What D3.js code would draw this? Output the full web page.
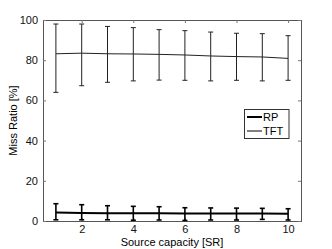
<!DOCTYPE html>
<html>
<head>
<meta charset="utf-8">
<script src="https://cdn.jsdelivr.net/npm/d3@7"></script>
<style>
  body { margin: 0; background: #fff; }
  text { font-family: "Liberation Sans", Arial, sans-serif; }
</style>
</head>
<body>
<div id="chart"></div>
<script>
// data
let capacity = [1, 2, 3, 4, 5, 6, 7, 8, 9, 10]
let tftMean  = [83.2, 83.5, 83.2, 83.1, 82.9, 82.6, 82.1, 81.8, 81.6, 80.9]
let tftLow   = [64, 67.3, 69, 69.7, 70.1, 70, 69.7, 70, 69.7, 70]
let tftHigh  = [98, 98, 96.8, 96.2, 95.2, 94.7, 94, 93.4, 93.2, 92.2]
let rpMean   = [4.2, 4.0, 3.9, 3.8, 3.8, 3.7, 3.7, 3.7, 3.7, 3.6]
let rpLow    = [0.6, 0.6, 0.6, 0.4, 0.5, 0.3, 0.5, 0.5, 0.8, 0.5]
let rpHigh   = [8.6, 8.1, 7.6, 7.3, 7.1, 6.6, 6.5, 6.4, 6.3, 6.1]
let xTicks = [2, 4, 6, 8, 10]
let yTicks = [0, 20, 40, 60, 80, 100]

window.onload = function() {
    let left = 43, right = 301, top = 20, bottom = 221

    let svg = d3.select('#chart')
        .append('svg')
        .attr('width', 332)
        .attr('height', 249)

    let x = d3.scaleLinear().domain([0.5, 10.5]).range([left, right])
    let y = d3.scaleLinear().domain([0, 100]).range([bottom, top])

    // axes (ticks inside, box style)
    svg.append('g')
        .attr('transform', `translate(0,${bottom})`)
        .call(d3.axisBottom(x).tickValues(xTicks).tickSize(-3).tickPadding(4).tickFormat(d3.format('d')))
    svg.append('g')
        .attr('transform', `translate(0,${top})`)
        .call(d3.axisTop(x).tickValues(xTicks).tickSize(-3).tickFormat(''))
    svg.append('g')
        .attr('transform', `translate(${left},0)`)
        .call(d3.axisLeft(y).tickValues(yTicks).tickSize(-3).tickPadding(5))
    svg.append('g')
        .attr('transform', `translate(${right},0)`)
        .call(d3.axisRight(y).tickValues(yTicks).tickSize(-3).tickFormat(''))

    svg.selectAll('.domain').attr('stroke', '#555')
    svg.selectAll('.tick line').attr('stroke', '#777')
    svg.selectAll('.tick text').attr('font-size', 11).attr('fill', '#111')
        .attr('font-family', '"Liberation Sans", Arial, sans-serif')

    function drawSeries(mean, low, high, lineW, barW, color) {
        let line = d3.line()
            .x((d, i) => x(capacity[i]))
            .y(d => y(d))
        svg.append('path')
            .datum(mean)
            .attr('d', line)
            .attr('fill', 'none')
            .attr('stroke', color)
            .attr('stroke-width', lineW)
        let bars = svg.append('g')
            .selectAll('g')
            .data(capacity)
            .join('g')
            .attr('stroke', color)
            .attr('stroke-width', barW)
        bars.append('line')
            .attr('x1', d => x(d)).attr('x2', d => x(d))
            .attr('y1', (d, i) => y(low[i])).attr('y2', (d, i) => y(high[i]))
        bars.append('line')
            .attr('x1', d => x(d) - 2.5).attr('x2', d => x(d) + 2.5)
            .attr('y1', (d, i) => y(low[i])).attr('y2', (d, i) => y(low[i]))
        bars.append('line')
            .attr('x1', d => x(d) - 2.5).attr('x2', d => x(d) + 2.5)
            .attr('y1', (d, i) => y(high[i])).attr('y2', (d, i) => y(high[i]))
    }

    drawSeries(tftMean, tftLow, tftHigh, 1, 1, '#222')
    drawSeries(rpMean, rpLow, rpHigh, 2, 1.6, '#000')

    // axis labels
    svg.append('text')
        .attr('x', (left + right) / 2)
        .attr('y', 246)
        .attr('text-anchor', 'middle')
        .attr('font-size', 11)
        .text('Source capacity [SR]')
    svg.append('text')
        .attr('transform', `translate(17,${(top + bottom) / 2}) rotate(-90)`)
        .attr('text-anchor', 'middle')
        .attr('font-size', 11)
        .text('Miss Ratio [%]')

    // legend
    let lg = svg.append('g')
    lg.append('rect')
        .attr('x', 244.5).attr('y', 109.5)
        .attr('width', 44.5).attr('height', 29)
        .attr('fill', '#fff')
        .attr('stroke', '#333')
    let legendItems = [
        { name: 'RP', w: 2 },
        { name: 'TFT', w: 1 }
    ]
    legendItems.forEach((item, i) => {
        let yy = 117 + i * 14
        lg.append('line')
            .attr('x1', 247).attr('x2', 262)
            .attr('y1', yy).attr('y2', yy)
            .attr('stroke', '#000')
            .attr('stroke-width', item.w)
        lg.append('text')
            .attr('x', 263).attr('y', yy + 4)
            .attr('font-size', 11)
            .text(item.name)
    })
}
</script>
</body>
</html>
